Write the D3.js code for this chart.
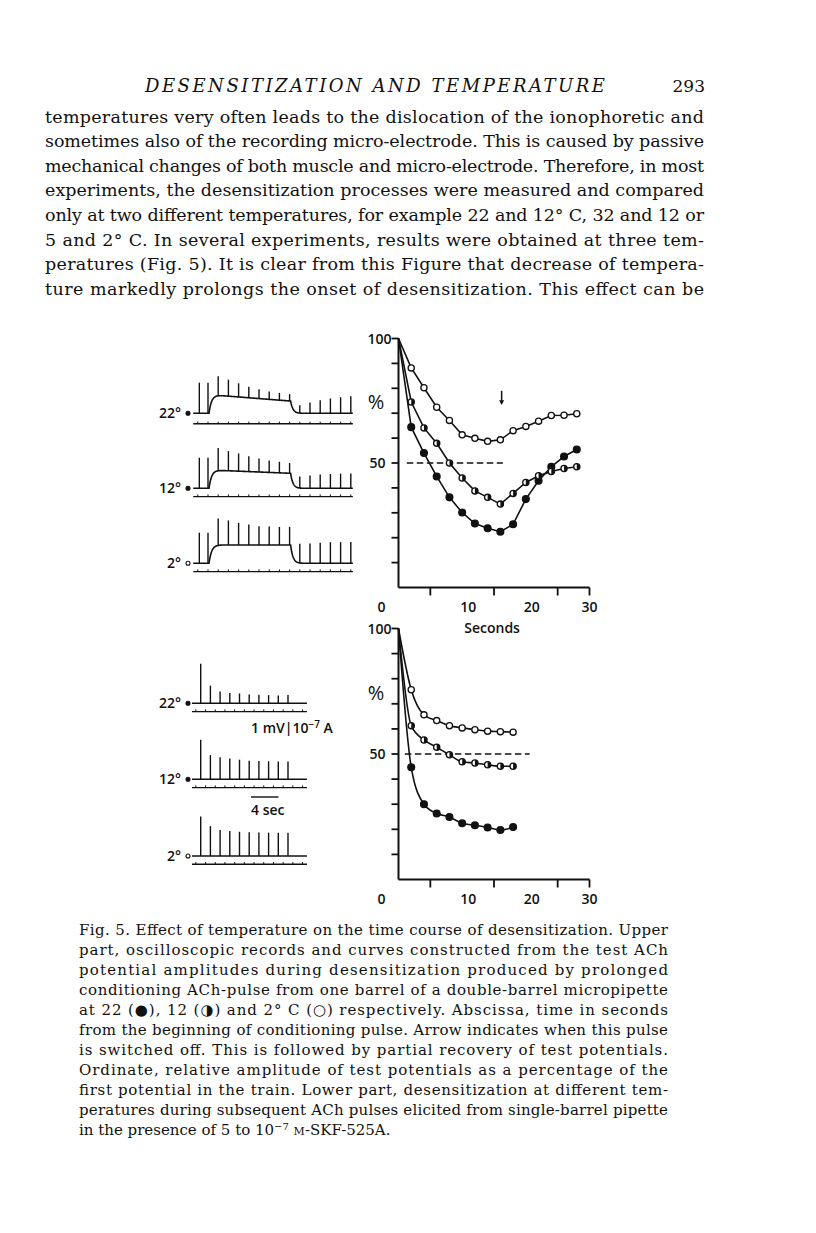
<!DOCTYPE html>
<html lang="en">
<head>
<meta charset="UTF-8">
<title>Desensitization and temperature</title>
<script src="https://d3js.org/d3.v7.min.js"></script>
<style>
  body { margin: 0; background: #fff; }
  svg { display: block; }
  .page-text { font-family: "DejaVu Serif", serif; font-size: 17.5px; fill: #111; }
  .caption { font-family: "DejaVu Serif", serif; font-size: 15px; fill: #111; }
  .lbl { font-family: "Open Sans", sans-serif; font-weight: 600; font-size: 14px; fill: #111; }
</style>
</head>
<body>
<svg id="page" width="816" height="1233"></svg>
<script>
// ---- page text ----
const headerTitle = "DESENSITIZATION AND TEMPERATURE";
const pageNumber = "293";
const bodyLines = [
  "temperatures very often leads to the dislocation of the ionophoretic and",
  "sometimes also of the recording micro-electrode. This is caused by passive",
  "mechanical changes of both muscle and micro-electrode. Therefore, in most",
  "experiments, the desensitization processes were measured and compared",
  "only at two different temperatures, for example 22 and 12° C, 32 and 12 or",
  "5 and 2° C. In several experiments, results were obtained at three tem-",
  "peratures (Fig. 5). It is clear from this Figure that decrease of tempera-",
  "ture markedly prolongs the onset of desensitization. This effect can be"
];
const captionLines = [
  "Fig. 5. Effect of temperature on the time course of desensitization. Upper",
  "part, oscilloscopic records and curves constructed from the test ACh",
  "potential amplitudes during desensitization produced by prolonged",
  "conditioning ACh-pulse from one barrel of a double-barrel micropipette",
  "at 22 (●), 12 (◑) and 2° C (○) respectively. Abscissa, time in seconds",
  "from the beginning of conditioning pulse. Arrow indicates when this pulse",
  "is switched off. This is followed by partial recovery of test potentials.",
  "Ordinate, relative amplitude of test potentials as a percentage of the",
  "first potential in the train. Lower part, desensitization at different tem-",
  "peratures during subsequent ACh pulses elicited from single-barrel pipette"
];

// ---- curves: relative amplitude (%) of test potentials ----
const temps = ["22°", "12°", "2°"];
const markerKind = ["filled", "half", "open"];

const upperTimes = [2, 4, 6, 8, 10, 12, 14, 16, 18, 20, 22, 24, 26, 28];
const upper22 = [64.4, 54.0, 44.6, 36.2, 30.1, 25.7, 23.8, 22.4, 25.4, 35.5, 42.9, 48.5, 52.6, 55.4];
const upper12 = [74.5, 64.1, 57.9, 50.0, 44.0, 38.8, 36.2, 33.5, 37.8, 42.2, 44.9, 46.6, 47.8, 48.5];
const upper2  = [88.2, 80.2, 72.4, 67.1, 61.3, 59.9, 58.7, 59.3, 63.0, 64.7, 66.8, 69.1, 69.2, 69.8];

const lowerTimes = [2, 4, 6, 8, 10, 12, 14, 16, 18];
const lower22 = [44.7, 30.0, 26.3, 24.9, 22.4, 21.6, 20.7, 19.7, 20.9];
const lower12 = [61.3, 55.6, 52.7, 49.7, 46.9, 46.4, 45.7, 45.1, 45.1];
const lower2  = [75.6, 65.6, 63.3, 61.3, 60.4, 59.7, 59.1, 58.9, 58.7];

const xTicks = [5, 15, 25, 30];
const xTickLabels = [0, 10, 20, 30];
const yTicks = [10, 20, 30, 40, 50, 60, 70, 80, 90, 100];
const yTickLabels = [100, 50];
const halfLineUpper = [1.3, 16.4];
const halfLineLower = [1.0, 20.6];
const pulseOffTime = 16.2;

// ---- oscilloscope records ----
const preSpikeTimes = [-1.7, 0];
const condOn = 0.2;
const plateauStart = [61, 60, 60];   // conditioning potential, % of first test potential
const plateauEnd = [40, 49, 60];
const recSpan = [-2.9, 28.4];
const pulseSpikeTimes = [0, 2, 4, 6, 8, 10, 12, 14, 16, 18];
const pulseSpan = [-1.8, 21.9];

const upperSeries = [upper22, upper12, upper2];
const lowerSeries = [lower22, lower12, lower2];

// ---- layout ----
const svg = d3.select("#page");
svg.append("rect").attr("width", 816).attr("height", 1233).attr("fill", "#fff");

const gx = d3.scaleLinear().domain([0, 30]).range([398.5, 589.5]);
const upperY = d3.scaleLinear().domain([0, 100]).range([587.5, 338.5]);
const lowerY = d3.scaleLinear().domain([0, 100]).range([879.5, 628.5]);

// header and body text
svg.append("text").attr("class", "page-text")
  .attr("x", 145).attr("y", 92)
  .style("font-style", "italic").style("font-size", "18px")
  .attr("textLength", 460).attr("lengthAdjust", "spacing")
  .text(headerTitle);
svg.append("text").attr("class", "page-text")
  .attr("x", 705).attr("y", 92).attr("text-anchor", "end")
  .style("font-size", "17px")
  .text(pageNumber);

svg.append("g").selectAll("text")
  .data(bodyLines)
  .join("text")
  .attr("class", "page-text")
  .attr("x", 45)
  .attr("y", (d, i) => 122.5 + i * 24.65)
  .attr("textLength", 659)
  .attr("lengthAdjust", "spacing")
  .text(d => d);

const cap = svg.append("g");
cap.selectAll("text")
  .data(captionLines)
  .join("text")
  .attr("class", "caption")
  .attr("x", 79)
  .attr("y", (d, i) => 935 + i * 19.95)
  .attr("textLength", 589)
  .attr("lengthAdjust", "spacing")
  .text(d => d);
const last = cap.append("text").attr("class", "caption")
  .attr("x", 79).attr("y", 935 + 10 * 19.95);
last.append("tspan").text("in the presence of 5 to 10");
last.append("tspan").attr("dy", -5).style("font-size", "10px").text("−7");
last.append("tspan").attr("dy", 5).text(" ");
last.append("tspan").style("font-size", "11px").text("M");
last.append("tspan").text("-SKF-525A.");

// ---- graphs ----
function drawMarker(g, kind, cx, cy) {
  const r = kind === "filled" ? 3.4 : 3.1;
  g.append("circle").attr("cx", cx).attr("cy", cy).attr("r", r)
    .attr("fill", kind === "filled" ? "#111" : "#fff")
    .attr("stroke", "#111").attr("stroke-width", 1.3);
  if (kind === "half") {
    g.append("path")
      .attr("d", `M${cx},${cy - r} A${r},${r} 0 0 1 ${cx},${cy + r} Z`)
      .attr("fill", "#111");
  }
}

function drawGraph(y, series, times, curve, halfSpan, withArrow) {
  const g = svg.append("g");
  // axes
  g.append("line").attr("x1", gx(0)).attr("x2", gx(0)).attr("y1", y(0)).attr("y2", y(100))
    .attr("stroke", "#111").attr("stroke-width", 2);
  g.append("line").attr("x1", gx(0)).attr("x2", gx(30)).attr("y1", y(0)).attr("y2", y(0))
    .attr("stroke", "#111").attr("stroke-width", 2);
  g.selectAll(".yt").data(yTicks).join("line")
    .attr("x1", gx(0) - 7).attr("x2", gx(0)).attr("y1", d => y(d)).attr("y2", d => y(d))
    .attr("stroke", "#111").attr("stroke-width", 1.8);
  g.selectAll(".xt").data(xTicks).join("line")
    .attr("x1", d => gx(d)).attr("x2", d => gx(d)).attr("y1", y(0)).attr("y2", y(0) + 8)
    .attr("stroke", "#111").attr("stroke-width", 1.8);
  g.selectAll(".yl").data(yTickLabels).join("text")
    .attr("class", "lbl")
    .attr("x", d => gx(0) + (d === 100 ? -7 : -13))
    .attr("y", d => y(d) + 5)
    .attr("text-anchor", "end")
    .text(d => d);
  g.selectAll(".xl").data(xTickLabels).join("text")
    .attr("class", "lbl")
    .attr("x", d => gx(d) + (d === 0 ? -17 : d === 30 ? 0 : 6))
    .attr("y", y(0) + 24)
    .attr("text-anchor", "middle")
    .text(d => d);
  g.append("text").attr("class", "lbl")
    .attr("x", 376).attr("y", y(74) + 6)
    .attr("text-anchor", "middle").style("font-size", "20px").style("font-weight", 500)
    .text("%");

  // 50 % reference
  g.append("line")
    .attr("x1", gx(halfSpan[0])).attr("x2", gx(halfSpan[1]))
    .attr("y1", y(50)).attr("y2", y(50))
    .attr("stroke", "#111").attr("stroke-width", 1.6).attr("stroke-dasharray", "6.5,3.5");

  const line = d3.line().x(d => gx(d[0])).y(d => y(d[1])).curve(curve);
  series.forEach((vals, s) => {
    const pts = [[0, 100]].concat(times.map((t, i) => [t, vals[i]]));
    g.append("path").attr("d", line(pts))
      .attr("fill", "none").attr("stroke", "#111").attr("stroke-width", 1.6);
  });
  series.forEach((vals, s) => {
    times.forEach((t, i) => drawMarker(g, markerKind[s], gx(t), y(vals[i])));
  });

  if (withArrow) {
    const ax = gx(pulseOffTime);
    g.append("line").attr("x1", ax).attr("x2", ax).attr("y1", y(79)).attr("y2", y(74))
      .attr("stroke", "#111").attr("stroke-width", 1.5);
    g.append("path")
      .attr("d", `M${ax - 2.5},${y(75.2)} L${ax + 2.5},${y(75.2)} L${ax},${y(73.3)} Z`)
      .attr("fill", "#111");
  }
  return g;
}

drawGraph(upperY, upperSeries, upperTimes, d3.curveLinear, halfLineUpper, true);
drawGraph(lowerY, lowerSeries, lowerTimes, d3.curveMonotoneX, halfLineLower, false);

svg.append("text").attr("class", "lbl")
  .attr("x", gx(14.7)).attr("y", upperY(0) + 45)
  .attr("text-anchor", "middle")
  .text("Seconds");

// ---- oscilloscope records, upper part (conditioning pulse) ----
const recX = d3.scaleLinear().domain([0, 28]).range([208, 350.8]);
const recAmp = d3.scaleLinear().domain([0, 100]).range([0, 30.6]);
const recBase = [413.3, 488.3, 563.3];

function condLevel(k, t) {
  if (t < condOn) return 0;
  const p = t => plateauStart[k] + (plateauEnd[k] - plateauStart[k]) * (t - condOn) / (pulseOffTime - condOn);
  if (t <= pulseOffTime) return p(t) * (1 - Math.exp(-(t - condOn) / 0.5));
  const atOff = p(pulseOffTime) * (1 - Math.exp(-(pulseOffTime - condOn) / 0.5));
  return atOff * Math.exp(-(t - pulseOffTime) / 0.45);
}

function traceLabel(text, y, kind) {
  svg.append("text").attr("class", "lbl")
    .attr("x", 181).attr("y", y + 5).attr("text-anchor", "end")
    .text(text);
  svg.append("circle").attr("cx", 188).attr("cy", y).attr("r", 2)
    .attr("fill", kind === "open" ? "#fff" : "#111")
    .attr("stroke", "#111").attr("stroke-width", 1.1);
}

temps.forEach((label, k) => {
  const base = recBase[k];
  const g = svg.append("g").attr("stroke", "#111").attr("fill", "none");
  const samples = d3.range(recSpan[0], recSpan[1] + 0.001, 0.1);
  const env = d3.line().x(t => recX(t)).y(t => base - recAmp(condLevel(k, t)));
  g.append("path").attr("d", env(samples)).attr("stroke-width", 1.6);

  const spikes = preSpikeTimes.map(t => [t, 100])
    .concat(upperTimes.map((t, i) => [t, upperSeries[k][i]]));
  g.selectAll(".sp").data(spikes).join("line")
    .attr("x1", d => recX(d[0])).attr("x2", d => recX(d[0]))
    .attr("y1", d => base - recAmp(condLevel(k, d[0])))
    .attr("y2", d => base - recAmp(condLevel(k, d[0]) + d[1]))
    .attr("stroke-width", 1.4);

  const my = base + (k === 0 ? 10.5 : 8.3);
  g.append("line").attr("x1", recX(recSpan[0])).attr("x2", recX(recSpan[1]))
    .attr("y1", my).attr("y2", my).attr("stroke-width", 1.4);
  g.selectAll(".tk").data(d3.range(-2, 29, 2)).join("line")
    .attr("x1", d => recX(d)).attr("x2", d => recX(d))
    .attr("y1", my).attr("y2", my - 2.2).attr("stroke-width", 1);

  traceLabel(label, base, k === 2 ? "open" : "filled");
});

// ---- oscilloscope records, lower part (subsequent pulses) ----
const pulseX = d3.scaleLinear().domain([0, 18]).range([200.7, 288]);
const pulseAmp = d3.scaleLinear().domain([0, 100]).range([0, 39.5]);
const pulseBase = [703.3, 779.3, 856];

temps.forEach((label, k) => {
  const base = pulseBase[k];
  const g = svg.append("g").attr("stroke", "#111").attr("fill", "none");
  g.append("line").attr("x1", pulseX(pulseSpan[0])).attr("x2", pulseX(pulseSpan[1]))
    .attr("y1", base).attr("y2", base).attr("stroke-width", 1.6);
  const spikes = [[0, 100]].concat(lowerTimes.map((t, i) => [t, lowerSeries[k][i]]));
  g.selectAll(".sp").data(spikes).join("line")
    .attr("x1", d => pulseX(d[0])).attr("x2", d => pulseX(d[0]))
    .attr("y1", base).attr("y2", d => base - pulseAmp(d[1]))
    .attr("stroke-width", 1.4);
  const my = base + 8.3;
  g.append("line").attr("x1", pulseX(pulseSpan[0])).attr("x2", pulseX(pulseSpan[1]))
    .attr("y1", my).attr("y2", my).attr("stroke-width", 1.4);
  g.selectAll(".tk").data(d3.range(-1, 22, 2)).join("line")
    .attr("x1", d => pulseX(d)).attr("x2", d => pulseX(d))
    .attr("y1", my).attr("y2", my - 2.2).attr("stroke-width", 1);
  traceLabel(label, base, k === 2 ? "open" : "filled");
});

// calibration
const calib = svg.append("text").attr("class", "lbl")
  .attr("x", 251).attr("y", 733);
calib.append("tspan").text("1 mV|10");
calib.append("tspan").attr("dy", -5).style("font-size", "10px").text("−7");
calib.append("tspan").attr("dy", 5).text(" A");

svg.append("line").attr("x1", 251).attr("x2", 278.5).attr("y1", 797).attr("y2", 797)
  .attr("stroke", "#111").attr("stroke-width", 1.4);
svg.append("text").attr("class", "lbl")
  .attr("x", 251).attr("y", 815)
  .text("4 sec");
</script>
</body>
</html>
